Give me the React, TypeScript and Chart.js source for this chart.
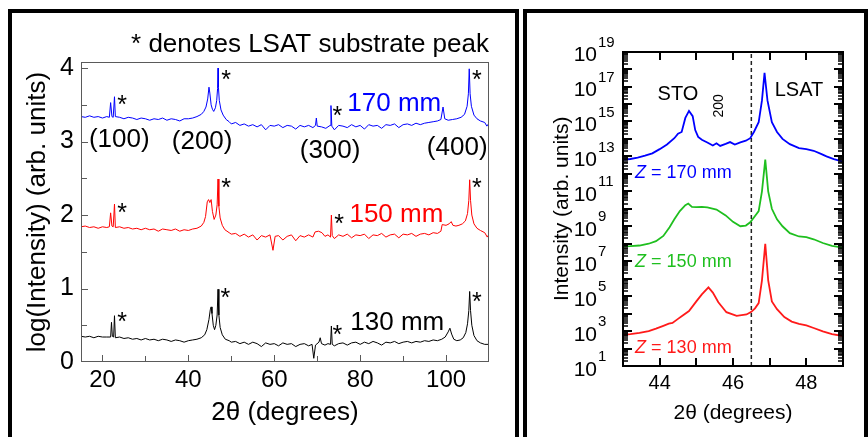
import React, { useEffect, useRef } from 'react';
import { Chart, registerables } from 'chart.js';

Chart.register(...registerables);

const FONT = "'Liberation Sans', Arial, Helvetica, sans-serif";

// ---------------- Left panel: wide-range 2θ scans, log10(intensity) ----------------
const scan170mm: [number, number][] = [
  [15, 3.34], [16, 3.33], [17, 3.35], [18, 3.33], [19, 3.34], [20, 3.32], [21, 3.34], [21.6, 3.33],
  [21.9, 3.53], [22.2, 3.34], [22.5, 3.33], [22.8, 3.61], [23.0, 3.34], [24, 3.33], [25, 3.31], [26, 3.33],
  [27, 3.32], [28, 3.30], [29, 3.32], [30, 3.31], [31, 3.29], [32, 3.31], [33, 3.30], [34, 3.32],
  [35, 3.29], [36, 3.31], [37, 3.30], [38, 3.28], [39, 3.31], [40, 3.31], [41, 3.32], [42, 3.34],
  [43, 3.37], [43.6, 3.41], [44.1, 3.47], [44.5, 3.58], [44.8, 3.74], [45.0, 3.66], [45.3, 3.50], [45.6, 3.44],
  [45.9, 3.41], [46.3, 3.46], [46.6, 3.56], [46.8, 3.72], [46.9, 4.00], [47.0, 3.74], [47.2, 3.56], [47.6, 3.43],
  [48.1, 3.36], [48.8, 3.30], [49.5, 3.27], [50, 3.24], [51, 3.26], [52, 3.22], [53, 3.24], [54, 3.21],
  [55, 3.23], [56, 3.20], [57, 3.23], [58, 3.16], [59, 3.22], [60, 3.21], [61, 3.23], [62, 3.19],
  [63, 3.22], [64, 3.21], [65, 3.17], [66, 3.22], [67, 3.20], [68, 3.22], [69, 3.19], [69.6, 3.22],
  [69.8, 3.32], [70.0, 3.21], [71, 3.20], [72, 3.18], [73.0, 3.22], [73.2, 3.49], [73.4, 3.21], [74, 3.16],
  [75, 3.22], [76, 3.21], [77, 3.19], [78, 3.23], [79, 3.20], [80, 3.22], [81, 3.17], [82, 3.23],
  [83, 3.21], [84, 3.22], [85, 3.18], [86, 3.23], [87, 3.22], [88, 3.24], [89, 3.19], [90, 3.23],
  [91, 3.24], [92, 3.22], [93, 3.25], [94, 3.23], [95, 3.25], [96, 3.26], [97, 3.27], [98, 3.28],
  [98.8, 3.30], [99.3, 3.47], [99.7, 3.31], [100.5, 3.29], [101.5, 3.30], [102.5, 3.31], [103.5, 3.33], [104.3, 3.37],
  [104.9, 3.48], [105.2, 3.65], [105.4, 3.99], [105.6, 3.65], [105.9, 3.48], [106.5, 3.36], [107.2, 3.31], [108, 3.28],
  [109, 3.26], [109.5, 3.21], [110, 3.25],
];

const scan150mm: [number, number][] = [
  [15, 1.84], [16, 1.85], [17, 1.83], [18, 1.84], [19, 1.82], [20, 1.84], [21, 1.83], [21.6, 1.84],
  [21.9, 2.03], [22.2, 1.85], [22.5, 1.84], [22.8, 2.15], [23.0, 1.83], [24, 1.84], [25, 1.82], [26, 1.83],
  [27, 1.81], [28, 1.82], [29, 1.80], [30, 1.82], [31, 1.80], [32, 1.81], [33, 1.78], [34, 1.81],
  [35, 1.80], [36, 1.79], [37, 1.81], [38, 1.78], [39, 1.80], [40, 1.79], [41, 1.81], [42, 1.82],
  [43, 1.85], [43.6, 1.90], [44.0, 1.98], [44.4, 2.18], [44.7, 2.21], [45.0, 2.17], [45.3, 2.21], [45.6, 2.05],
  [46.0, 1.94], [46.4, 2.00], [46.7, 2.14], [46.9, 2.49], [47.1, 2.12], [47.4, 1.96], [47.9, 1.86], [48.5, 1.80],
  [49.5, 1.76], [50, 1.74], [51, 1.75], [52, 1.71], [53, 1.74], [54, 1.70], [55, 1.73], [56, 1.66],
  [57, 1.72], [58, 1.70], [59, 1.73], [59.7, 1.52], [60.2, 1.71], [61, 1.72], [62, 1.66], [63, 1.71],
  [64, 1.73], [65, 1.65], [66, 1.72], [67, 1.70], [68, 1.73], [69, 1.70], [69.5, 1.77], [70.3, 1.78],
  [71.1, 1.76], [71.8, 1.71], [72.5, 1.73], [73.1, 1.70], [73.3, 2.00], [73.5, 1.72], [74, 1.68], [75, 1.73],
  [76, 1.71], [77, 1.74], [78, 1.69], [79, 1.73], [80, 1.72], [81, 1.74], [82, 1.68], [83, 1.73],
  [84, 1.72], [85, 1.75], [86, 1.70], [87, 1.73], [88, 1.74], [89, 1.69], [90, 1.74], [91, 1.73],
  [92, 1.75], [93, 1.71], [94, 1.74], [95, 1.75], [96, 1.73], [97, 1.76], [98, 1.75], [98.8, 1.78],
  [99.1, 1.87], [100, 1.86], [100.7, 1.88], [101.2, 1.91], [101.6, 1.86], [102.3, 1.85], [103, 1.86], [103.8, 1.88],
  [104.5, 1.92], [105.0, 2.02], [105.3, 2.20], [105.5, 2.48], [105.7, 2.20], [106.0, 2.00], [106.5, 1.88], [107.2, 1.82],
  [108, 1.79], [109, 1.76], [109.6, 1.70], [110, 1.74],
];

const scan130mm: [number, number][] = [
  [15, 0.35], [16, 0.34], [17, 0.35], [18, 0.33], [19, 0.35], [20, 0.34], [21, 0.34], [21.9, 0.34],
  [22.1, 0.54], [22.3, 0.35], [22.6, 0.34], [22.8, 0.63], [23.0, 0.33], [24, 0.34], [25, 0.32], [26, 0.33],
  [27, 0.31], [28, 0.32], [29, 0.30], [30, 0.32], [31, 0.30], [32, 0.31], [33, 0.29], [34, 0.31],
  [35, 0.30], [36, 0.28], [37, 0.30], [38, 0.29], [39, 0.27], [40, 0.29], [41, 0.30], [42, 0.31],
  [43, 0.33], [43.8, 0.37], [44.3, 0.44], [44.8, 0.58], [45.1, 0.71], [45.3, 0.75], [45.5, 0.66], [45.8, 0.50],
  [46.1, 0.44], [46.4, 0.50], [46.7, 0.64], [46.9, 0.99], [47.1, 0.64], [47.4, 0.47], [47.9, 0.37], [48.6, 0.31],
  [49.5, 0.29], [50, 0.27], [51, 0.28], [52, 0.25], [53, 0.27], [54, 0.24], [55, 0.27], [56, 0.25],
  [57, 0.21], [58, 0.26], [59, 0.24], [60, 0.25], [61, 0.22], [62, 0.26], [63, 0.24], [64, 0.25],
  [65, 0.21], [66, 0.24], [67, 0.25], [68, 0.22], [68.8, 0.24], [69.2, 0.05], [69.6, 0.23], [70.4, 0.27],
  [70.7, 0.33], [71.0, 0.25], [71.8, 0.23], [72.5, 0.25], [73.1, 0.24], [73.3, 0.49], [73.5, 0.24], [74, 0.22],
  [75, 0.25], [76, 0.26], [77, 0.23], [78, 0.26], [79, 0.27], [80, 0.24], [81, 0.27], [82, 0.25],
  [83, 0.28], [84, 0.26], [85, 0.23], [86, 0.27], [87, 0.26], [88, 0.28], [89, 0.25], [90, 0.27],
  [91, 0.28], [92, 0.26], [93, 0.28], [94, 0.27], [95, 0.29], [96, 0.28], [97, 0.30], [98, 0.29],
  [99, 0.31], [99.8, 0.34], [100.5, 0.41], [100.9, 0.46], [101.3, 0.38], [101.8, 0.31], [102.5, 0.29], [103.3, 0.30],
  [104.0, 0.33], [104.6, 0.40], [105.0, 0.52], [105.3, 0.70], [105.5, 0.96], [105.7, 0.70], [106.0, 0.50], [106.5, 0.36],
  [107.2, 0.29], [108, 0.26], [109, 0.24], [110, 0.24],
];

const leftXLabelTicks = [20, 40, 60, 80, 100];
const leftXTickMarks = [20, 30, 40, 50, 60, 70, 80, 90, 100];
const leftYLabelTicks = [0, 1, 2, 3, 4];
const leftYTickMarks = [0.5, 1, 1.5, 2, 2.5, 3, 3.5, 4];

// substrate-peak asterisks (2θ, log I)
const substrateStars: [number, number][] = [
  [24.6, 3.59], [48.8, 3.93], [74.7, 3.44], [107.2, 3.93],
  [24.6, 2.12], [48.8, 2.46], [75.1, 1.96], [107.2, 2.46],
  [24.6, 0.63], [48.6, 0.96], [74.7, 0.46], [107.2, 0.91],
];
const reflectionLabels: [string, number, number][] = [
  ['(100)', 23.9, 3.02], ['(200)', 43.2, 3.0], ['(300)', 73.0, 2.87], ['(400)', 102.6, 2.91],
];
const distanceLabels: [string, number, number, string][] = [
  ['170 mm', 77.0, 3.51, '#0000ff'],
  ['150 mm', 77.5, 2.0, '#ff0000'],
  ['130 mm', 77.7, 0.53, '#000000'],
];

// ---------------- Right panel: zoom around the 200 reflection ----------------
const zoom170mm: [number, number][] = [
  [43.0, 6.6e12], [43.2, 7.1e12], [43.4, 8.5e12], [43.6, 1.1e13], [43.8, 1.5e13], [44.0, 2.6e13], [44.2, 4.8e13],
  [44.4, 1.1e14], [44.5, 2.0e14], [44.6, 2.5e14], [44.7, 1.6e15], [44.8, 4.0e15], [44.9, 2.0e15], [44.97, 3.2e14],
  [45.05, 1.3e14], [45.15, 8.9e13], [45.3, 6.3e13], [45.45, 4.2e13], [45.55, 5.6e13], [45.65, 4.0e13], [45.8, 5.2e13],
  [45.92, 6.6e13], [46.05, 4.8e13], [46.2, 6.3e13], [46.35, 7.9e13], [46.47, 1.1e14], [46.57, 2.5e14], [46.7, 9.0e14],
  [46.79, 1.6e16], [46.86, 6.0e17], [46.94, 1.6e16], [47.06, 9.0e14], [47.2, 2.5e14], [47.35, 1.0e14], [47.55, 5.0e13],
  [47.8, 3.0e13], [48.0, 2.6e13], [48.2, 2.1e13], [48.4, 1.4e13], [48.55, 1.0e13], [48.75, 7.0e12], [48.9, 5.8e12],
  [49.0, 5.0e12],
];
const zoom150mm: [number, number][] = [
  [43.0, 7.1e7], [43.2, 7.2e7], [43.45, 7.9e7], [43.7, 1.0e8], [43.9, 1.4e8], [44.1, 2.8e8], [44.27, 8.9e8],
  [44.4, 2.5e9], [44.55, 7.4e9], [44.7, 1.6e10], [44.78, 2.0e10], [44.88, 1.3e10], [45.0, 1.26e10], [45.15, 1.3e10],
  [45.3, 1.2e10], [45.55, 9.1e9], [45.8, 4.2e9], [46.0, 1.8e9], [46.2, 1.0e9], [46.35, 1.1e9], [46.47, 1.7e9],
  [46.57, 3.2e9], [46.7, 7.4e9], [46.79, 1.0e11], [46.88, 6.6e12], [46.96, 1.0e11], [47.06, 1.0e10], [47.2, 2.5e9],
  [47.35, 1.0e9], [47.55, 4.0e8], [47.8, 2.6e8], [48.0, 2.4e8], [48.2, 1.8e8], [48.45, 1.1e8], [48.7, 7.6e7],
  [49.0, 6.0e7],
];
const zoom130mm: [number, number][] = [
  [43.0, 600], [43.2, 660], [43.45, 790], [43.7, 1000], [43.9, 1380], [44.1, 2000], [44.25, 2630],
  [44.35, 2900], [44.5, 5000], [44.6, 7100], [44.8, 1.4e4], [45.0, 5.0e4], [45.15, 1.26e5], [45.33, 3.2e5],
  [45.45, 1.6e5], [45.6, 4.5e4], [45.82, 1.2e4], [46.1, 7400], [46.37, 8900], [46.5, 1.26e4], [46.6, 2.0e4],
  [46.7, 4.0e4], [46.79, 8.0e5], [46.88, 1.0e8], [46.96, 8.0e5], [47.06, 5.0e4], [47.2, 1.8e4], [47.4, 6300],
  [47.6, 3500], [47.8, 2600], [48.0, 2100], [48.2, 1500], [48.45, 950], [48.7, 660], [49.0, 520],
];
const lsatMarker: [number, number][] = [[46.5, 10], [46.5, 1e19]];

const rightXLabelTicks = [44, 46, 48];
const rightXTickMarks = [44, 45, 46, 47, 48];
const rightYExponents = [1, 3, 5, 7, 9, 11, 13, 15, 17, 19];

const phaseLabels: [string, number, number, number, number][] = [
  // text, 2θ, intensity, font size, rotation
  ['STO', 44.5, 3.5e16, 20, 0],
  ['LSAT', 47.8, 5.9e16, 20, 0],
  ['200', 45.62, 7.8e15, 14, -90],
];
const zLabels: [string, number, number, string][] = [
  ['170 mm', 43.33, 1.05e12, '#0000ff'],
  ['150 mm', 43.33, 8.9e6, '#1fbf1f'],
  ['130 mm', 43.33, 110, '#ff1a1a'],
];

const toPts = (arr: [number, number][]) => arr.map(([x, y]) => ({ x, y }));

const leftDecor = {
  id: 'leftDecor',
  afterDraw(chart: any) {
    const { ctx, chartArea: a, scales } = chart;
    const xs = scales.x;
    const ys = scales.y;
    ctx.save();
    const L = Math.round(a.left);
    const T = Math.round(a.top);
    const R = Math.round(a.right);
    const B = Math.round(a.bottom);
    ctx.fillStyle = '#5a5a5a';
    ctx.fillRect(L, T, R - L, 1);
    ctx.fillRect(L, B - 1, R - L, 1);
    ctx.fillRect(L, T, 1, B - T);
    ctx.fillRect(R - 1, T, 1, B - T);
    for (const v of leftXTickMarks) {
      const px = Math.round(xs.getPixelForValue(v));
      const len = v % 20 === 0 ? 7 : 6;
      ctx.fillRect(px, B - len, 1, len);
    }
    for (const v of leftYTickMarks) {
      const py = Math.round(ys.getPixelForValue(v));
      const len = Number.isInteger(v) ? 7 : 6;
      ctx.fillRect(L, py, len, 1);
    }

    ctx.fillStyle = '#000';
    ctx.font = `25px ${FONT}`;
    ctx.textAlign = 'center';
    ctx.textBaseline = 'alphabetic';
    for (const [sx, sy] of substrateStars) {
      ctx.fillText('*', xs.getPixelForValue(sx), ys.getPixelForValue(sy) + 0.58 * 25);
    }
    ctx.font = `26px ${FONT}`;
    ctx.textBaseline = 'middle';
    for (const [t, lx, ly] of reflectionLabels) {
      ctx.fillText(t, xs.getPixelForValue(lx), ys.getPixelForValue(ly));
    }
    ctx.textAlign = 'left';
    for (const [t, lx, ly, c] of distanceLabels) {
      ctx.fillStyle = c;
      ctx.fillText(t, xs.getPixelForValue(lx), ys.getPixelForValue(ly));
    }
    ctx.restore();
  },
};

const rightDecor = {
  id: 'rightDecor',
  afterDraw(chart: any) {
    const { ctx, chartArea: a, scales } = chart;
    const xs = scales.x;
    const ys = scales.y;
    ctx.save();
    const L = Math.round(a.left);
    const T = Math.round(a.top);
    const R = Math.round(a.right);
    const B = Math.round(a.bottom);
    ctx.fillStyle = '#000';
    // frame
    ctx.fillRect(L - 1, T - 1, R - L + 2, 2);
    ctx.fillRect(L - 1, B - 1, R - L + 2, 2);
    ctx.fillRect(L - 1, T - 1, 2, B - T + 2);
    ctx.fillRect(R - 1, T - 1, 2, B - T + 2);
    // x ticks (bottom and top, inward)
    for (const v of rightXTickMarks) {
      const px = Math.round(xs.getPixelForValue(v));
      ctx.fillRect(px - 1, B - 8, 2, 8);
      ctx.fillRect(px - 1, T, 2, 8);
    }
    // log ticks (left and right, inward)
    for (let k = 1; k < 19; k++) {
      for (let m = 1; m < 10; m++) {
        if (k === 1 && m === 1) continue;
        const v = m * Math.pow(10, k);
        const py = Math.round(ys.getPixelForValue(v));
        const len = m === 1 ? 9 : 5;
        const th = m === 1 ? 2 : 1.5;
        ctx.fillRect(L, py - th / 2, len, th);
        ctx.fillRect(R - len, py - th / 2, len, th);
      }
    }

    // exponents of the "10" tick labels
    ctx.font = `15px ${FONT}`;
    ctx.textAlign = 'left';
    ctx.textBaseline = 'middle';
    for (const e of rightYExponents) {
      const py = ys.getPixelForValue(Math.pow(10, e));
      ctx.fillText(String(e), a.left - 25, py - 9);
    }

    for (const [t, lx, ly, size, rot] of phaseLabels) {
      ctx.save();
      ctx.font = `${size}px ${FONT}`;
      ctx.textAlign = 'center';
      ctx.translate(xs.getPixelForValue(lx), ys.getPixelForValue(ly));
      ctx.rotate((rot * Math.PI) / 180);
      ctx.fillText(t, 0, 0);
      ctx.restore();
    }

    for (const [t, lx, ly, c] of zLabels) {
      const px = xs.getPixelForValue(lx);
      const py = ys.getPixelForValue(ly);
      ctx.fillStyle = c;
      ctx.textAlign = 'left';
      ctx.font = `italic 18px ${FONT}`;
      ctx.fillText('Z', px, py);
      const w = ctx.measureText('Z').width;
      ctx.font = `18px ${FONT}`;
      ctx.fillText(' = ' + t, px + w, py);
    }
    ctx.restore();
  },
};

function LeftPanel() {
  const ref = useRef<HTMLCanvasElement>(null);
  useEffect(() => {
    const chart = new Chart(ref.current as HTMLCanvasElement, {
      type: 'line',
      data: {
        datasets: [
          { data: toPts(scan170mm), borderColor: '#0000ff', borderWidth: 1, pointRadius: 0, tension: 0, fill: false },
          { data: toPts(scan150mm), borderColor: '#ff0000', borderWidth: 1, pointRadius: 0, tension: 0, fill: false },
          { data: toPts(scan130mm), borderColor: '#000000', borderWidth: 1, pointRadius: 0, tension: 0, fill: false },
        ],
      },
      options: {
        animation: false,
        responsive: false,
        events: [],
        layout: { padding: { left: 0, right: 26, top: 0, bottom: 0 } },
        plugins: {
          legend: { display: false },
          tooltip: { enabled: false },
          title: {
            display: true,
            text: '* denotes LSAT substrate peak',
            align: 'end',
            color: '#000',
            font: { family: FONT, size: 26, weight: 'normal' },
            padding: { top: 16, bottom: 2 },
          },
        },
        scales: {
          x: {
            type: 'linear',
            min: 15,
            max: 110,
            grid: { display: false, drawTicks: false },
            border: { display: false },
            afterBuildTicks: (s: any) => { s.ticks = leftXLabelTicks.map((v) => ({ value: v })); },
            afterFit: (s: any) => { s.height = 75; },
            ticks: { color: '#000', font: { family: FONT, size: 24 }, padding: 4, autoSkip: false, maxRotation: 0, callback: (v: any) => String(v) },
            title: { display: true, text: '2θ (degrees)', color: '#000', font: { family: FONT, size: 26, weight: 'normal' }, padding: { top: 0, bottom: 9 } },
          },
          y: {
            type: 'linear',
            min: 0,
            max: 4.08,
            grid: { display: false, drawTicks: false },
            border: { display: false },
            afterBuildTicks: (s: any) => { s.ticks = leftYLabelTicks.map((v) => ({ value: v })); },
            afterFit: (s: any) => { s.width = 69; },
            ticks: { color: '#000', font: { family: FONT, size: 25 }, padding: 7, autoSkip: false, callback: (v: any) => String(v) },
            title: { display: true, text: 'log(Intensity) (arb. units)', color: '#000', font: { family: FONT, size: 26, weight: 'normal' }, padding: { top: 10, bottom: 0 } },
          },
        },
      } as any,
      plugins: [leftDecor],
    });
    return () => chart.destroy();
  }, []);
  return (
    <canvas ref={ref} width={503} height={424} style={{ position: 'absolute', left: 12, top: 13, width: 503, height: 424 }} />
  );
}

function RightPanel() {
  const ref = useRef<HTMLCanvasElement>(null);
  useEffect(() => {
    const chart = new Chart(ref.current as HTMLCanvasElement, {
      type: 'line',
      data: {
        datasets: [
          { data: toPts(zoom170mm), borderColor: '#0000ff', borderWidth: 1.8, pointRadius: 0, tension: 0, fill: false },
          { data: toPts(zoom150mm), borderColor: '#1fbf1f', borderWidth: 1.8, pointRadius: 0, tension: 0, fill: false },
          { data: toPts(zoom130mm), borderColor: '#ff1a1a', borderWidth: 1.8, pointRadius: 0, tension: 0, fill: false },
          { data: toPts(lsatMarker), borderColor: '#222', borderWidth: 1.5, borderDash: [4, 3], pointRadius: 0, fill: false },
        ],
      },
      options: {
        animation: false,
        responsive: false,
        events: [],
        layout: { padding: { left: 0, right: 21, top: 23, bottom: 0 } },
        plugins: { legend: { display: false }, tooltip: { enabled: false } },
        scales: {
          x: {
            type: 'linear',
            min: 43,
            max: 49,
            grid: { display: false, drawTicks: false },
            border: { display: false },
            afterBuildTicks: (s: any) => { s.ticks = rightXLabelTicks.map((v) => ({ value: v })); },
            afterFit: (s: any) => { s.height = 71; },
            ticks: { color: '#000', font: { family: FONT, size: 20 }, padding: 5, autoSkip: false, maxRotation: 0, callback: (v: any) => String(v) },
            title: { display: true, text: '2θ (degrees)', color: '#000', font: { family: FONT, size: 21, weight: 'normal' }, padding: { top: 0, bottom: 11 } },
          },
          y: {
            type: 'logarithmic',
            min: 10,
            max: 1e19,
            grid: { display: false, drawTicks: false },
            border: { display: false },
            afterBuildTicks: (s: any) => { s.ticks = rightYExponents.map((e) => ({ value: Math.pow(10, e), major: true })); },
            afterFit: (s: any) => { s.width = 96; },
            ticks: { color: '#000', font: { family: FONT, size: 21 }, padding: 26, labelOffset: 4, autoSkip: false, callback: () => '10' },
            title: { display: true, text: 'Intensity (arb. units)', color: '#000', font: { family: FONT, size: 21, weight: 'normal' }, padding: { top: 23, bottom: 0 } },
          },
        },
      } as any,
      plugins: [rightDecor],
    });
    return () => chart.destroy();
  }, []);
  return (
    <canvas ref={ref} width={337} height={424} style={{ position: 'absolute', left: 527, top: 13, width: 337, height: 424 }} />
  );
}

export default function App() {
  return (
    <div style={{ position: 'fixed', left: 0, top: 0, width: 868, height: 437, background: '#fff', overflow: 'hidden' }}>
      <div style={{ position: 'absolute', left: 8, top: 9, width: 511, height: 445, border: '4px solid #000', boxSizing: 'border-box' }} />
      <div style={{ position: 'absolute', left: 523, top: 9, width: 345, height: 445, border: '4px solid #000', boxSizing: 'border-box' }} />
      <LeftPanel />
      <RightPanel />
    </div>
  );
}
